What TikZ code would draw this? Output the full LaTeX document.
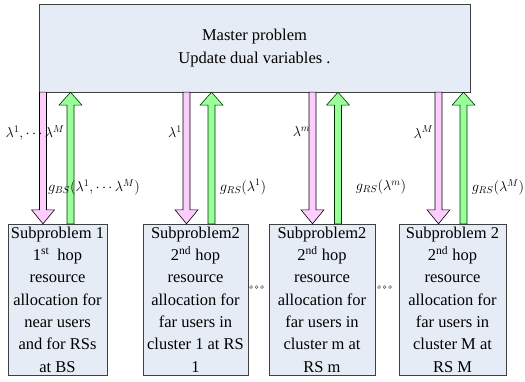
\documentclass[tikz,border=0pt]{standalone}
\usepackage{fontspec}
\setmainfont{Liberation Serif}
\usetikzlibrary{calc,shadows}
\definecolor{boxfill}{HTML}{E6ECF6}
\definecolor{pinkfill}{HTML}{FFCCFF}
\definecolor{greenfill}{HTML}{99FF99}
\newcommand\pinkdown[2]{%
  \filldraw[pinkarrow] let \p1=(master.south), \p2=(#2.north) in
   ({#1pt-3.5pt},\y1) -- ({#1pt+3.5pt},\y1) -- ({#1pt+3.5pt},\y2+14pt) --
   ({#1pt+11.5pt},\y2+14pt) -- (#1pt,\y2) -- ({#1pt-11.5pt},\y2+14pt) --
   ({#1pt-3.5pt},\y2+14pt) -- cycle;}
\newcommand\greenup[2]{%
  \filldraw[greenarrow] let \p1=(#2.north), \p2=(master.south) in
   ({#1pt-3.5pt},\y1) -- ({#1pt+3.5pt},\y1) -- ({#1pt+3.5pt},\y2-13pt) --
   ({#1pt+11.5pt},\y2-13pt) -- (#1pt,\y2) -- ({#1pt-11.5pt},\y2-13pt) --
   ({#1pt-3.5pt},\y2-13pt) -- cycle;}
\begin{document}
\begin{tikzpicture}[x=1pt,y=1pt,
  box/.style={draw=black!75, fill=boxfill, inner sep=0pt, align=center,
    font=\fontsize{16.5}{22.3}\selectfont,
    drop shadow={shadow xshift=1.3pt, shadow yshift=-1.3pt, fill=black!45, opacity=1}},
  subbox/.style={box, minimum height=151pt},
  pinkarrow/.style={fill=pinkfill, draw=black, line width=0.6pt},
  greenarrow/.style={fill=greenfill, draw=black!80!green, line width=0.6pt},
  lab/.style={inner sep=0pt, font=\fontsize{14}{16}\selectfont},
  dotc/.style={circle, draw=black!65, fill=white, line width=0.5pt, minimum size=2.8pt, inner sep=0pt}]
\useasboundingbox (0,0) rectangle (525,381);
\fill[white] (0,0) rectangle (525,381);

\node[box, minimum width=431pt, minimum height=88pt] (master) at (254.5,333)
  {Master problem\\ Update dual variables .};

\node[subbox, minimum width=99pt] (s1) at (57.5,81.5)
  {Subproblem 1\\ 1\textsuperscript{st}\ \ hop\\ resource\\ allocation for\\ near users\\ and for RSs\\ at BS};
\node[subbox, minimum width=105pt] (s2) at (195.5,81.5)
  {Subproblem2\\ 2\textsuperscript{nd} hop\\ resource\\ allocation for\\ far users in\\ cluster 1 at RS\\ 1};
\node[subbox, minimum width=106pt] (s3) at (322,81.5)
  {Subproblem2\\ 2\textsuperscript{nd} hop\\ resource\\ allocation for\\ far users in\\ cluster m at\\ RS m};
\node[subbox, minimum width=107pt] (s4) at (452.5,81.5)
  {Subproblem 2\\ 2\textsuperscript{nd} hop\\ resource\\ allocation for\\ far users in\\ cluster M at\\ RS M};

\pinkdown{43}{s1}
\greenup{70.5}{s1}
\pinkdown{186.5}{s2}
\greenup{211.5}{s2}
\pinkdown{312.5}{s3}
\greenup{338}{s3}
\pinkdown{438.5}{s4}
\greenup{463.5}{s4}

\node[lab] (l1) at (35,248) {$\lambda^1,\cdots\lambda^M$};
\node[lab] (g1) at (94,194) {$g_{BS}(\lambda^1,\cdots\lambda^M)$};
\node[lab] (l2) at (175,249) {$\lambda^1$};
\node[lab] (g2) at (243,194) {$g_{RS}(\lambda^1)$};
\node[lab] (l3) at (301.5,249) {$\lambda^m$};
\node[lab] (g3) at (381,194) {$g_{RS}(\lambda^m)$};
\node[lab] (l4) at (423.5,249) {$\lambda^M$};
\node[lab] (g4) at (498,194) {$g_{RS}(\lambda^M)$};

\node[dotc] (da1) at (251,94) {};
\node[dotc] (da2) at (256.5,94) {};
\node[dotc] (da3) at (262,94) {};
\node[dotc] (db1) at (379,94) {};
\node[dotc] (db2) at (384.5,94) {};
\node[dotc] (db3) at (390,94) {};
\end{tikzpicture}
\end{document}
